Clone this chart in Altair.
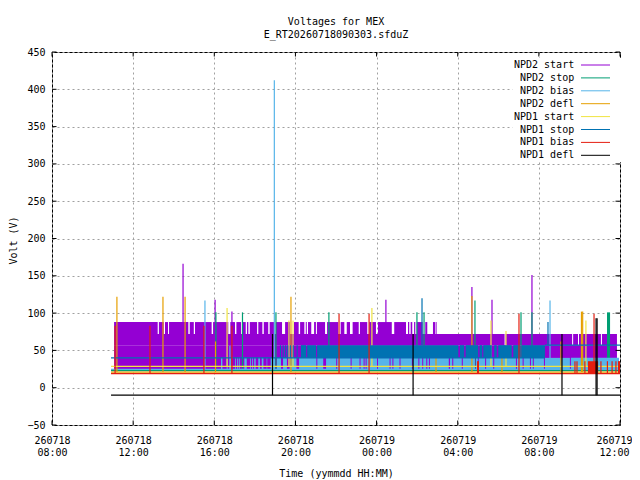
import altair as alt
import pandas as pd

# ---------------------------------------------------------------- data
# Times are hours since 2026-07-18 00:00 UTC (24 = 260719 00:00).
SERIES = ["NPD2 start", "NPD2 stop", "NPD2 bias", "NPD2 defl",
          "NPD1 start", "NPD1 stop", "NPD1 bias", "NPD1 defl"]
COLORS = ["#9400d3", "#009e73", "#56b4e9", "#e69f00",
          "#f0e442", "#0072b2", "#e51e10", "#000000"]

X_DOMAIN = [8.0, 36.0]
X_TICKS = [8, 12, 16, 20, 24, 28, 32, 36]
Y_TICKS = [-50, 0, 50, 100, 150, 200, 250, 300, 350, 400, 450]

# flat levels: (series, from_h, to_h, volt)
BASE_LINES = [
    ("NPD2 stop", 10.91, 36.0, 23),
    ("NPD2 bias", 10.91, 36.0, 24.5),
    ("NPD2 defl", 10.91, 36.0, 21),
    ("NPD1 start", 10.91, 36.0, 28.5),
    ("NPD1 stop", 10.91, 32.30, 40),
    ("NPD1 stop", 32.30, 36.0, 57),
    ("NPD1 bias", 10.91, 36.0, 19),
    ("NPD1 defl", 10.91, 36.0, -10),
]

# spikes: times, peak volts, starting level
NPD2_START_SPIKE_T = [14.46, 16.04, 16.87, 24.46, 28.70, 29.69, 31.66]
NPD2_START_SPIKE_V = [166, 118, 102, 118, 135, 118, 151]
NPD2_STOP_SPIKE_T = [16.08, 17.39, 19.04, 21.65, 25.99, 26.34, 28.85, 31.12, 31.66]
NPD2_STOP_SPIKE_V = [101, 101, 101, 101, 101, 101, 117, 101, 101]
NPD2_BIAS_SPIKE_T = [15.54, 16.77, 18.96, 32.55]
NPD2_BIAS_SPIKE_V = [117, 56, 412, 117]
NPD2_DEFL_SPIKE_T = [11.20, 13.47, 14.56, 16.06, 19.78, 26.93, 28.70, 30.18, 33.09, 34.10, 34.16]
NPD2_DEFL_SPIKE_V = [122, 122, 122, 62, 122, 40, 123, 40, 62, 102, 102]
NPD1_START_SPIKE_T = [16.63, 19.68, 19.88, 23.77, 29.64, 30.38, 34.32]
NPD1_START_SPIKE_V = [107, 90, 90, 107, 90, 76, 90]
NPD1_STOP_SPIKE_T = [26.24, 32.45]
NPD1_STOP_SPIKE_V = [120, 88]
NPD1_BIAS_SPIKE_T = [11.11, 12.83, 15.49, 16.87, 22.15, 23.63, 31.02, 34.72,
                     33.78, 33.88, 34.27, 35.06, 35.38, 35.61, 35.80, 35.95]
NPD1_BIAS_SPIKE_V = [83, 83, 83, 83, 99, 99, 99, 99,
                     35.5, 35.5, 35.5, 35.5, 35.5, 35.5, 35.5, 35.5]
NPD1_DEFL_SPIKE_T = [18.87, 25.80, 33.14, 34.82, 34.87]
NPD1_DEFL_SPIKE_V = [72, 72, 72, 93, 93]

SPIKES = [
    ("NPD2 start", 72, NPD2_START_SPIKE_T, NPD2_START_SPIKE_V),
    ("NPD2 stop", 23, NPD2_STOP_SPIKE_T, NPD2_STOP_SPIKE_V),
    ("NPD2 bias", 24.5, NPD2_BIAS_SPIKE_T, NPD2_BIAS_SPIKE_V),
    ("NPD2 defl", 21, NPD2_DEFL_SPIKE_T, NPD2_DEFL_SPIKE_V),
    ("NPD1 start", 28.5, NPD1_START_SPIKE_T, NPD1_START_SPIKE_V),
    ("NPD1 stop", 57, NPD1_STOP_SPIKE_T, NPD1_STOP_SPIKE_V),
    ("NPD1 bias", 19, NPD1_BIAS_SPIKE_T, NPD1_BIAS_SPIKE_V),
    ("NPD1 defl", -10, NPD1_DEFL_SPIKE_T, NPD1_DEFL_SPIKE_V),
]

# densely oscillating stretches, drawn as filled ranges: (from_h, to_h)
NPD2_START_HIGH = [  # 72..88 V
    (11.06, 13.21), (13.27, 13.51), (13.57, 13.72), (13.77, 14.72), (14.79, 14.99),
    (15.05, 15.87), (15.94, 16.69), (16.79, 17.02), (17.09, 17.32), (17.38, 17.55),
    (17.61, 17.68), (17.75, 18.11), (18.17, 18.37), (18.44, 18.66), (18.73, 18.96),
    (19.04, 19.34), (19.49, 19.73), (19.93, 20.16), (20.23, 20.44), (20.51, 20.56),
    (20.62, 20.78), (20.92, 21.01), (21.06, 21.46), (21.56, 22.11), (22.23, 22.41),
    (22.53, 22.69), (22.82, 23.12), (23.18, 23.54), (23.64, 23.97), (24.07, 24.75),
    (24.87, 25.45), (25.55, 25.61), (25.68, 25.76), (25.85, 25.91), (25.98, 26.27),
    (26.40, 26.50), (26.78, 26.90), (26.93, 26.96)]
NPD2_START_MID = [  # 57..72 V
    (11.06, 30.31), (30.36, 33.64), (33.69, 33.93), (33.98, 35.06), (35.11, 35.85)]
NPD2_START_LOW = [(11.06, 35.85)]  # 25..57 V
NPD2_STOP_BLOCK = [(35.36, 35.51)]  # 23..101 V
NPD2_BIAS_RANGE = [  # 25..40 V
    (16.33, 16.40), (16.61, 16.66), (16.77, 16.82), (17.02, 17.06), (17.13, 17.18),
    (17.23, 17.27), (17.48, 17.60), (17.76, 17.80), (17.87, 17.91), (17.97, 18.04),
    (18.17, 18.25), (18.34, 18.42), (18.58, 18.61), (18.78, 18.86), (18.89, 18.99),
    (19.09, 19.29), (19.39, 19.58), (19.71, 20.05),
    (20.18, 21.03), (21.08, 21.37), (21.51, 22.01), (22.06, 22.72), (22.77, 23.16),
    (23.21, 23.36), (23.41, 23.46), (23.51, 24.02), (24.07, 24.64), (24.69, 24.78),
    (24.83, 25.13), (25.18, 25.74), (25.79, 26.06), (26.11, 26.25), (26.30, 26.45),
    (26.50, 26.58), (26.63, 27.56), (27.62, 27.73), (27.78, 28.20), (28.25, 28.85),
    (28.90, 28.99), (29.04, 29.35), (29.40, 29.75), (29.80, 30.87), (30.92, 31.20),
    (31.25, 31.56), (31.61, 31.70), (31.75, 32.25), (32.30, 33.53), (33.58, 35.95)]
NPD1_STOP_RANGE = [  # 40..57 V
    (19.24, 19.29), (19.37, 19.42), (19.49, 19.54), (19.60, 19.65), (19.73, 19.78),
    (19.87, 19.92), (20.06, 20.11),
    (20.27, 20.53), (20.58, 21.02), (21.07, 28.03), (28.11, 28.32), (28.39, 29.01),
    (29.08, 29.21), (29.26, 29.68), (29.80, 29.92), (30.00, 30.66), (30.74, 31.07),
    (31.15, 32.30)]
NPD1_BIAS_BLOCK = [(28.95, 29.05), (34.42, 34.92), (35.90, 36.0)]  # 19..35.5 V

BANDS = [
    ("NPD2 start", 25, 57, NPD2_START_LOW),
    ("NPD2 start", 57, 72, NPD2_START_MID),
    ("NPD2 start", 72, 88, NPD2_START_HIGH),
    ("NPD2 stop", 23, 101, NPD2_STOP_BLOCK),
    ("NPD2 bias", 25, 40, NPD2_BIAS_RANGE),
    ("NPD1 stop", 40, 57, NPD1_STOP_RANGE),
    ("NPD1 bias", 19, 35.5, NPD1_BIAS_BLOCK),
]

# ---------------------------------------------------------------- tables
T0 = int(pd.Timestamp("2026-07-18", tz="UTC").timestamp() * 1000)


def ms(h):
    return T0 + h * 3600000.0


line_rows = []
for s, a, b, v in BASE_LINES:
    line_rows.append(dict(series=s, t1=ms(a), t2=ms(b), v1=v, v2=v))
for s, base, ts, vs in SPIKES:
    for t, v in zip(ts, vs):
        line_rows.append(dict(series=s, t1=ms(t), t2=ms(t), v1=base, v2=v))
lines = pd.DataFrame(line_rows)

band_rows = []
for s, lo, hi, segs in BANDS:
    for a, b in segs:
        band_rows.append(dict(series=s, t1=ms(a), t2=ms(b), lo=lo, hi=hi))
bands = pd.DataFrame(band_rows)

FONT = "DejaVu Sans Mono"

xscale = alt.Scale(type="utc", domain=[ms(X_DOMAIN[0]), ms(X_DOMAIN[1])], nice=False)
yscale = alt.Scale(domain=[-50, 450], nice=False, zero=False)
cscale = alt.Scale(domain=SERIES, range=COLORS)

xaxis = alt.Axis(
    values=[ms(h) for h in X_TICKS],
    labelExpr="[utcFormat(datum.value, '%y%m%d'), utcFormat(datum.value, '%H:%M')]",
    grid=True, ticks=False, tickSize=0, domain=False,
    labelPadding=10, labelBaseline="top", labelLineHeight=12,
    labelFlush=False, labelOverlap=False, labelBound=False,
    labelOffset={"condition": {"test": f"datum.value >= {ms(X_DOMAIN[1])}", "value": -6},
                 "value": 0},
    title="Time (yymmdd HH:MM)", titleY=43, titleBaseline="top",
)
yaxis = alt.Axis(
    values=Y_TICKS, grid=True, ticks=False, tickSize=0, domain=False,
    labelPadding=7, labelBaseline="middle",
    title="Volt (V)", titleX=-39, titleY=188, titleAngle=270,
    titleBaseline="middle", titleAlign="center",
)
# key: right-aligned labels, followed by a line sample (custom symbol path
# drawn to the right of the symbol anchor)
legend = alt.Legend(
    title=None, orient="none", legendX=460.5, legendY=6,
    fillColor="white", padding=1.5,
    symbolType="M12.3,0L18.1,0M19.8,0", symbolSize=100, symbolStrokeWidth=1,
    symbolFillColor="transparent",
    labelAlign="right", labelOffset=49.2, symbolOffset=0,
    rowPadding=1.9, labelFont=FONT, labelFontSize=10,
    labelColor="black", labelLimit=200,
)

layers = []
for s, col in zip(SERIES, COLORS):
    b = bands[bands.series == s]
    if len(b):
        layers.append(
            alt.Chart(b).mark_rect(color=col, strokeWidth=0).encode(
                x=alt.X("t1:T", scale=xscale, axis=xaxis),
                x2="t2:T",
                y=alt.Y("lo:Q", scale=yscale, axis=yaxis),
                y2="hi:Q",
            )
        )
    l = lines[lines.series == s]
    layers.append(
        alt.Chart(l).mark_rule(strokeWidth=1.2).encode(
            x=alt.X("t1:T", scale=xscale, axis=xaxis),
            x2="t2:T",
            y=alt.Y("v1:Q", scale=yscale, axis=yaxis),
            y2="v2:Q",
            color=alt.Color("series:N", scale=cscale, legend=legend),
        )
    )

# inward tick marks on all four sides of the frame
xt = pd.DataFrame({"t": [ms(h) for h in X_TICKS]})
yt = pd.DataFrame({"v": Y_TICKS})
for y0, y1 in [(0, 4.5), (373, 368.5)]:
    layers.append(alt.Chart(xt).mark_rule(color="black", strokeWidth=1).encode(
        x=alt.X("t:T", scale=xscale, axis=xaxis), y=alt.value(y0), y2=alt.value(y1)))
for x0, x1 in [(0, 4.5), (568, 563.5)]:
    layers.append(alt.Chart(yt).mark_rule(color="black", strokeWidth=1).encode(
        y=alt.Y("v:Q", scale=yscale, axis=yaxis), x=alt.value(x0), x2=alt.value(x1)))

chart = alt.layer(*layers).properties(
    width=568, height=373,
    autosize=alt.AutoSizeParams(type="none"),
    padding={"left": 44, "top": 44, "right": 12, "bottom": 56},
    background="white",
    title=alt.TitleParams(
        text=["Voltages for MEX", "E_RT20260718090303.sfduZ"],
        font=FONT, fontSize=10, fontWeight="normal", lineHeight=13,
        anchor="middle", offset=7, color="black",
    ),
).configure_view(
    stroke="black", strokeWidth=1
).configure_axis(
    labelFont=FONT, titleFont=FONT, labelFontSize=10, titleFontSize=10,
    titleFontWeight="normal", labelColor="black", titleColor="black",
    gridColor="#a0a0a0", gridDash=[2, 3], gridWidth=1, gridOpacity=1,
)

chart.save("out.html", embed_options={"renderer": "svg", "actions": False})
